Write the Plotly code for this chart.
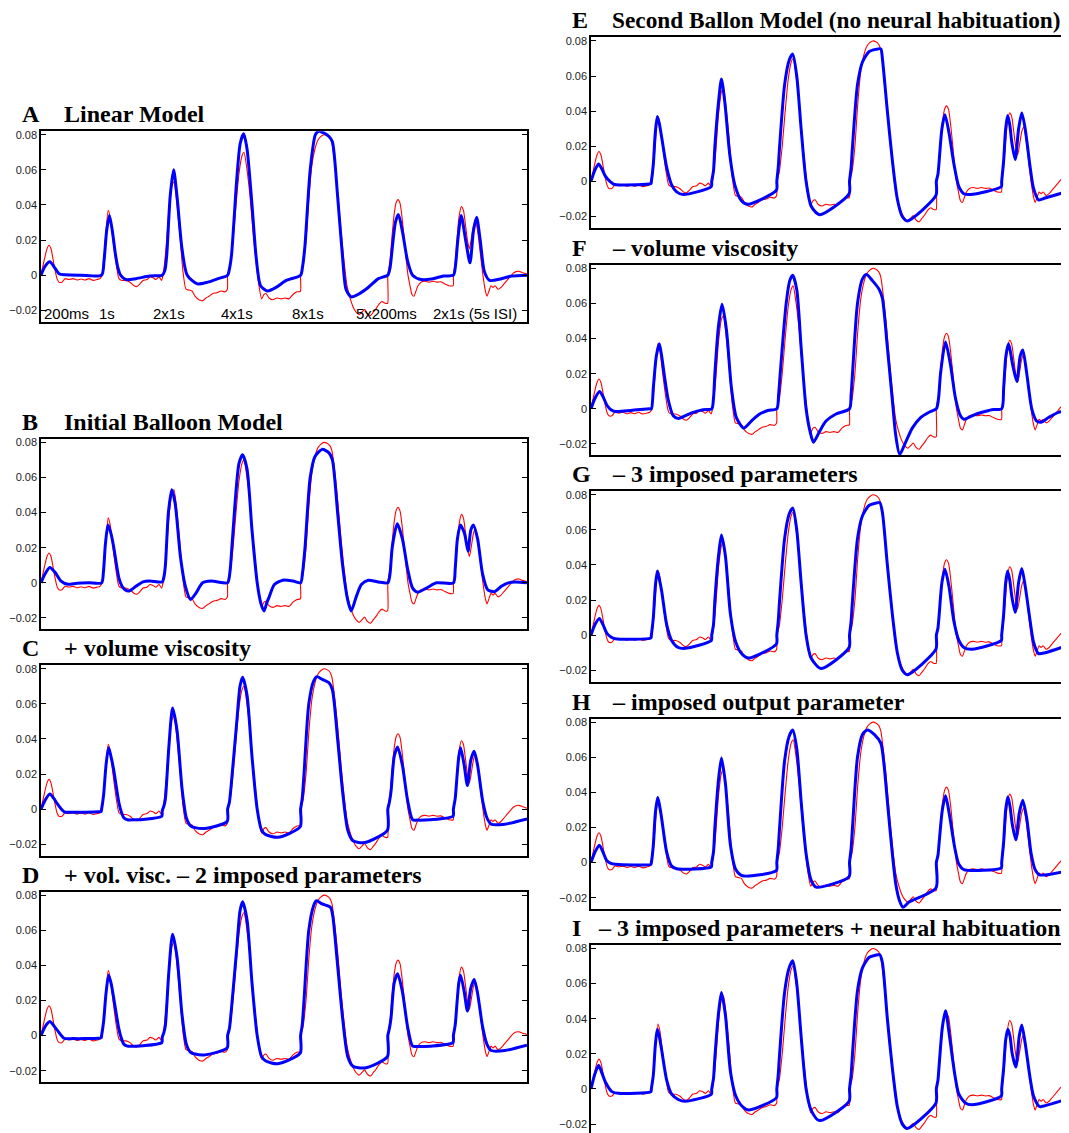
import plotly.graph_objects as go

W, H = 1069, 1133
OFF = 8  # page body margin in the browser
FW, FH = W - OFF, H - OFF

# ---------------- data ----------------
tick_vals = [-0.02, 0.0, 0.02, 0.04, 0.06, 0.08]
tick_text = ["\u22120.02", "0", "0.02", "0.04", "0.06", "0.08"]

event_labels = ["200ms", "1s", "2x1s", "4x1s", "8x1s", "5x200ms", "2x1s (5s ISI)"]
event_label_t = [12.5, 32.8, 63.8, 98.0, 133.5, 172.8, 217.0]

# measured BOLD signal (red), (time s, value)
measured = [
    (0, 0), (1.5, 0.008), (3.0, 0.015), (4.0, 0.017), (5.0, 0.015), (6.5, 0.006), (8.0, -0.002),
    (9.0, -0.004), (10.5, -0.004), (12.0, -0.002), (14.0, -0.0025), (16.0, -0.002), (18.0, -0.0028),
    (20.0, -0.0022), (22.0, -0.0028), (24.0, -0.002), (26.0, -0.003), (28.0, -0.0025), (29.5, -0.002),
    (30.5, 0.0), (31.5, 0.01), (32.5, 0.025), (33.6, 0.037), (34.6, 0.033), (36.0, 0.02), (37.5, 0.007),
    (39.0, -0.002), (40.5, -0.003), (42.5, -0.003), (44.5, -0.004), (46.5, -0.006), (48.0, -0.0065),
    (49.5, -0.005), (51.0, -0.003), (53.0, -0.0025), (54.5, -0.001), (56.0, -0.0015), (57.5, -0.0025),
    (59.0, -0.001), (60.3, -0.003), (61.0, 0.0), (62.5, 0.015), (64.0, 0.038), (65.5, 0.051),
    (66.5, 0.053), (68.0, 0.04), (69.5, 0.022), (71.0, 0.002), (72.5, -0.008), (74.0, -0.0085),
    (75.5, -0.009), (77.0, -0.012), (79.0, -0.014), (81.0, -0.0145), (82.5, -0.013), (84.0, -0.012),
    (86.0, -0.0105), (88.0, -0.01), (90.0, -0.009), (92.0, -0.0095), (93.2, -0.008), (93.3, 0.0),
    (94.5, 0.005), (96.0, 0.02), (97.5, 0.04), (99.0, 0.058), (100.5, 0.068), (101.5, 0.07),
    (103.0, 0.06), (104.5, 0.045), (106.0, 0.025), (107.5, 0.008), (109.0, -0.006), (110.3, -0.0135),
    (111.5, -0.011), (112.5, -0.0105), (114.0, -0.013), (116.0, -0.014), (118.0, -0.013),
    (120.0, -0.0135), (122.0, -0.013), (124.0, -0.0135), (126.0, -0.011), (128.0, -0.0095),
    (129.7, -0.0092), (129.8, 0.0), (131.0, 0.005), (132.5, 0.02), (134.0, 0.045), (135.5, 0.063),
    (137.0, 0.072), (138.5, 0.077), (140.0, 0.079), (141.5, 0.08), (143.0, 0.0795), (144.5, 0.078),
    (145.5, 0.075), (147.0, 0.062), (148.5, 0.045), (150.0, 0.025), (151.5, 0.008), (153.0, -0.006),
    (154.5, -0.013), (156.0, -0.018), (157.5, -0.021), (159.0, -0.0225), (160.5, -0.021),
    (161.8, -0.0195), (163.2, -0.022), (164.8, -0.023), (166.2, -0.021), (167.6, -0.019),
    (169.0, -0.0165), (170.5, -0.015), (172.0, -0.016), (173.3, -0.016), (173.4, 0.0), (174.5, 0.008),
    (175.5, 0.022), (176.5, 0.034), (177.5, 0.041), (178.5, 0.043), (179.5, 0.041), (180.5, 0.033),
    (181.5, 0.022), (182.5, 0.01), (183.5, 0.0), (184.5, -0.006), (185.5, -0.011), (186.5, -0.012),
    (187.5, -0.009), (188.5, -0.006), (190.0, -0.004), (192.0, -0.0035), (194.0, -0.004),
    (196.0, -0.0035), (198.0, -0.004), (200.0, -0.0038), (202.0, -0.005), (204.0, -0.006),
    (206.1, -0.006), (206.2, 0.0), (207.0, 0.006), (208.0, 0.02), (209.0, 0.033), (210.2, 0.039),
    (211.2, 0.037), (212.2, 0.029), (213.2, 0.02), (214.2, 0.015), (215.2, 0.021), (216.2, 0.028),
    (217.2, 0.031), (218.2, 0.026), (219.2, 0.017), (220.2, 0.007), (221.2, -0.002), (222.2, -0.009),
    (223.0, -0.012), (224.0, -0.009), (225.0, -0.006), (226.0, -0.007), (227.0, -0.006),
    (228.5, -0.008), (230.0, -0.007), (231.5, -0.005), (233.0, -0.003), (234.5, -0.001),
    (236.0, 0.001), (237.5, 0.002), (239.0, 0.0022), (240.5, 0.0015), (242.0, 0.001), (243.0, 0.0005),
]

# model fits (blue), (time s, value)
model_A = [
    (0, 0), (2, 0.005), (4.4, 0.0076), (7, 0.004), (9, 0.0008), (12, 0.0002), (20, 0), (30.3, 0),
    (31.5, 0.008), (32.8, 0.025), (34.2, 0.034), (35.7, 0.025), (37.2, 0.012), (38.5, 0.004),
    (39.8, 0.0), (42.4, -0.0025), (47.5, -0.002), (54.3, -0.0005), (60.6, 0), (62.0, 0.003),
    (62.9, 0.012), (64.6, 0.045), (66.3, 0.060), (68.0, 0.045), (70.5, 0.015), (73.1, 0.0),
    (78.2, -0.005), (83.3, -0.004), (88.5, -0.002), (93.3, 0), (94.3, 0.004), (95.3, 0.012),
    (97.9, 0.055), (99.6, 0.075), (101.3, 0.0805), (103.0, 0.072), (105.5, 0.04), (107.6, 0.01),
    (109.8, -0.006), (113.2, -0.009), (117.5, -0.007), (122.6, -0.003), (129.8, 0), (130.8, 0.005),
    (132.0, 0.017), (134.6, 0.06), (137.2, 0.080), (138.9, 0.082), (141.4, 0.081), (144.0, 0.079),
    (145.7, 0.076), (148.3, 0.045), (150.8, 0.01), (152.5, -0.008), (155.1, -0.0124), (158.5, -0.011),
    (163.6, -0.007), (168.7, -0.002), (173.4, 0), (174.5, 0.004), (175.6, 0.015), (177.2, 0.03),
    (178.7, 0.0345), (180.7, 0.025), (183.3, 0.008), (185.8, 0.0), (190.0, -0.0025), (196.0, -0.002),
    (201.2, -0.0005), (206.2, 0), (207.3, 0.006), (208.4, 0.02), (210.1, 0.034), (212.3, 0.02),
    (214.5, 0.007), (216.2, 0.025), (217.8, 0.033), (219.6, 0.02), (221.7, 0.002), (224.3, -0.003),
    (230.2, -0.002), (235.4, -0.0005), (243, 0),
]
model_B = [
    (0, 0), (2, 0.005), (4.4, 0.0087), (7, 0.006), (10, 0.001), (13.3, -0.0008), (18, -0.0002),
    (24, 0.0), (30.3, 0.0), (31.2, 0.006), (32.2, 0.022), (33.5, 0.033), (35, 0.028), (36.4, 0.02),
    (38.9, 0.003), (40.5, -0.002), (42, -0.004), (44, -0.0047), (47.5, -0.002), (51, 0.0005),
    (54.3, 0.001), (60.6, 0.0005), (61.4, 0.003), (62.2, 0.01), (63.7, 0.04), (65.4, 0.053),
    (67.1, 0.045), (69.7, 0.015), (72.2, -0.002), (74.8, -0.0095), (77.4, -0.006), (80.8, 0.0),
    (85, 0.001), (93.3, 0.0), (94.1, 0.003), (94.8, 0.01), (97, 0.045), (99, 0.068), (100.8, 0.073),
    (103, 0.065), (105.5, 0.03), (108.1, 0.0), (110, -0.012), (111.5, -0.016), (113, -0.011),
    (114.1, -0.008), (116.7, -0.001), (120.9, 0.0015), (126, 0.001), (129.8, 0.0), (130.8, 0.006),
    (132, 0.02), (134.6, 0.06), (137, 0.072), (140.6, 0.076), (144, 0.074), (145.7, 0.07),
    (148.3, 0.04), (150.8, 0.01), (153.4, -0.01), (155.1, -0.016), (157.6, -0.008), (160.2, -0.001),
    (163.6, 0.0015), (168.7, 0.0005), (173.4, 0.0), (174.5, 0.005), (175.6, 0.02), (178.1, 0.0336),
    (180.7, 0.025), (183.3, 0.008), (185.8, -0.003), (188.4, -0.0053), (192.7, -0.003), (197.8, 0.0),
    (206.2, 0.0), (207.1, 0.008), (208.2, 0.025), (209.7, 0.033), (211.8, 0.028), (213.5, 0.018),
    (214.9, 0.03), (216.2, 0.033), (218.3, 0.025), (220.8, 0.005), (223.4, -0.004), (226.8, -0.005),
    (230.2, -0.002), (233.7, 0.0), (237.1, 0.0005), (243, 0.0),
]
model_C = [
    (0, 0), (2, 0.005), (4.4, 0.0087), (6.5, 0.006), (8.2, 0.003), (11.6, -0.0015), (16, -0.0017),
    (22, -0.0017), (28.7, -0.0015), (30.1, -0.0012), (30.3, 0.0), (31.3, 0.008), (32.5, 0.025),
    (33.8, 0.035), (35, 0.03), (36.4, 0.022), (38.9, 0.004), (40.3, -0.002), (41.5, -0.005),
    (43.2, -0.006), (47, -0.006), (51, -0.0058), (60.4, -0.004), (60.6, -0.001), (61.5, 0.002),
    (62.2, 0.006), (63.9, 0.035), (65.8, 0.0576), (68, 0.045), (70.5, 0.012), (72.7, -0.005),
    (74.8, -0.0095), (77, -0.0105), (81.6, -0.011), (93.1, -0.007), (93.3, 0.0), (94.2, 0.004),
    (95.2, 0.015), (97.9, 0.05), (99.5, 0.07), (100.8, 0.0751), (103, 0.065), (105.5, 0.03),
    (108.1, 0.0), (110.3, -0.012), (112.4, -0.0145), (118.4, -0.016), (129.6, -0.010), (129.8, 0.0),
    (130.6, 0.006), (131.5, 0.02), (133.9, 0.06), (136.3, 0.073), (138, 0.0755), (140.6, 0.074),
    (144, 0.072), (145.7, 0.068), (148.3, 0.04), (150.8, 0.01), (153.4, -0.012), (156, -0.018),
    (161.9, -0.019), (173.2, -0.012), (173.4, 0.0), (174.2, 0.004), (175, 0.01), (176.6, 0.03),
    (178.3, 0.0355), (180.7, 0.025), (183.3, 0.005), (185.8, -0.006), (188, -0.0062), (194.4, -0.006),
    (206.0, -0.004), (206.2, 0.0), (207.1, 0.006), (208.1, 0.02), (208.9, 0.03), (209.8, 0.035),
    (211.6, 0.025), (213.2, 0.0135), (214.9, 0.028), (216.6, 0.033), (218.3, 0.025), (220.8, 0.005),
    (223, -0.005), (225.1, -0.0085), (231.9, -0.0085), (243, -0.0055),
]
model_D = [
    (0, 0), (2, 0.005), (4.4, 0.008), (6.5, 0.0055), (8.2, 0.003), (11.6, -0.0015), (16, -0.0017),
    (22, -0.0017), (28.7, -0.0015), (30.1, -0.0012), (30.3, 0.0), (31.3, 0.008), (32.5, 0.024),
    (33.8, 0.0344), (35, 0.03), (36.4, 0.021), (38.9, 0.004), (40.3, -0.002), (41.5, -0.005),
    (43.2, -0.006), (47, -0.006), (51, -0.0058), (60.4, -0.004), (60.6, -0.001), (61.5, 0.002),
    (62.2, 0.006), (63.9, 0.036), (65.8, 0.0578), (68, 0.045), (70.5, 0.012), (72.7, -0.005),
    (74.8, -0.0095), (77, -0.0105), (81.6, -0.011), (93.1, -0.007), (93.3, 0.0), (94.2, 0.004),
    (95.2, 0.015), (97.9, 0.05), (99.5, 0.071), (100.8, 0.0762), (103, 0.066), (105.5, 0.03),
    (108.1, 0.0), (110.3, -0.012), (112.4, -0.0145), (118.4, -0.016), (129.6, -0.010), (129.8, 0.0),
    (130.6, 0.006), (131.5, 0.02), (133.9, 0.06), (136.3, 0.074), (137.7, 0.0768), (140.6, 0.075),
    (144.8, 0.073), (145.9, 0.068), (148.3, 0.04), (150.8, 0.01), (153.4, -0.012), (156, -0.0175),
    (161.9, -0.0184), (173.2, -0.012), (173.4, 0.0), (174.2, 0.004), (175, 0.01), (176.6, 0.03),
    (178.3, 0.0353), (180.7, 0.025), (183.3, 0.005), (185.8, -0.006), (188, -0.0062), (194.4, -0.006),
    (206.0, -0.004), (206.2, 0.0), (207.1, 0.006), (208.1, 0.02), (208.9, 0.03), (209.8, 0.0344),
    (211.6, 0.025), (213.2, 0.014), (214.9, 0.027), (216.6, 0.032), (218.3, 0.024), (220.8, 0.005),
    (223, -0.005), (225.1, -0.0085), (231.9, -0.0085), (243, -0.0055),
]
model_E = [
    (0, 0), (1.8, 0.006), (3.8, 0.0099), (5.5, 0.007), (7.2, 0.003), (9.5, 0.0), (11.3, -0.0015),
    (14.7, -0.002), (30.1, -0.0012), (30.3, 0.0), (31.3, 0.01), (32.3, 0.028), (33.3, 0.037),
    (34.3, 0.033), (35.5, 0.025), (38, 0.008), (40.5, -0.002), (43, -0.006), (46.3, -0.0075),
    (60.4, -0.003), (60.6, 0.0), (61.5, 0.006), (62.2, 0.02), (64, 0.045), (65.5, 0.0583),
    (67.2, 0.045), (69.7, 0.015), (72.2, -0.002), (75.5, -0.011), (78.8, -0.013), (93.1, -0.005),
    (93.3, 0.0), (94, 0.008), (94.7, 0.02), (97.2, 0.055), (99.5, 0.069), (101.3, 0.0725),
    (103.3, 0.06), (105.5, 0.03), (108, 0.0), (110.5, -0.014), (114.7, -0.019), (129.6, -0.007),
    (129.8, 0.0), (130.6, 0.008), (131.3, 0.02), (133.8, 0.055), (136.3, 0.068), (139.7, 0.074),
    (143, 0.0752), (145.5, 0.0755), (146.3, 0.07), (148.8, 0.04), (151.3, 0.012), (153.8, -0.01),
    (156.3, -0.02), (158.8, -0.0225), (173.2, -0.008), (173.4, 0.0), (174.2, 0.004), (174.7, 0.01),
    (176.2, 0.03), (177.7, 0.038), (179.7, 0.028), (182.2, 0.01), (184.7, -0.003), (187.2, -0.007),
    (190.5, -0.0075), (206.0, -0.003), (206.2, 0.0), (207.2, 0.012), (208.2, 0.03), (209.2, 0.0375),
    (210.3, 0.032), (211.3, 0.022), (213, 0.0125), (214.7, 0.03), (216.3, 0.039), (218, 0.03),
    (220.5, 0.008), (222.2, -0.004), (224.7, -0.0105), (228, -0.0095), (240, -0.0055),
]
model_F = [
    (0, 0), (2, 0.006), (4.3, 0.0099), (6, 0.007), (8, 0.002), (10, -0.0005), (12.2, -0.0015),
    (20, -0.001), (29.3, 0.0), (30.3, 0.0), (31.3, 0.012), (32.8, 0.03), (34.3, 0.037), (35.5, 0.03),
    (36.7, 0.02), (38.8, 0.005), (41.3, -0.004), (43.8, -0.0055), (47.2, -0.004), (51.3, -0.002),
    (56.3, -0.0005), (60.6, 0.0), (61.5, 0.006), (62.2, 0.02), (64, 0.047), (65.8, 0.0595),
    (68, 0.045), (70.5, 0.012), (73, -0.005), (76.7, -0.011), (80.5, -0.007), (84.7, -0.003),
    (88.8, -0.001), (93.3, 0.0), (94.2, 0.008), (95, 0.02), (98, 0.06), (99.8, 0.073), (101.3, 0.076),
    (103.3, 0.068), (105.5, 0.035), (108, 0.0), (110, -0.013), (111.7, -0.019), (114.7, -0.013),
    (118, -0.007), (123, -0.003), (129.8, 0.0), (130.6, 0.008), (131.3, 0.02), (133.8, 0.06),
    (136.3, 0.074), (138.3, 0.0765), (141.3, 0.073), (144.7, 0.068), (146.3, 0.063), (148.8, 0.035),
    (151.3, 0.005), (153, -0.015), (155, -0.026), (158, -0.019), (161.3, -0.011), (165.5, -0.005),
    (169.7, -0.002), (173.4, 0.0), (174.5, 0.006), (175.5, 0.02), (178, 0.038), (180.5, 0.025),
    (183, 0.006), (185.5, -0.004), (187.2, -0.006), (191.3, -0.004), (196.3, -0.002),
    (201.3, -0.0005), (206.2, 0.0), (207.2, 0.012), (208.3, 0.03), (209.7, 0.037), (211.7, 0.025),
    (213.8, 0.0155), (215.5, 0.03), (216.8, 0.0335), (218.8, 0.02), (221.3, 0.0), (223.8, -0.007),
    (226.3, -0.0075), (229.7, -0.005), (234.7, -0.002), (240, -0.001),
]
model_G = [
    (0, 0), (2, 0.006), (4.2, 0.0095), (6, 0.006), (8, 0.001), (10, -0.001), (12.2, -0.002),
    (30.1, -0.0015), (30.3, 0.0), (31.3, 0.01), (32.3, 0.028), (33.3, 0.0365), (34.3, 0.032),
    (35.5, 0.025), (38, 0.006), (40.5, -0.003), (43.8, -0.007), (47.2, -0.0075), (60.4, -0.003),
    (60.6, 0.0), (61.5, 0.006), (62.2, 0.02), (64, 0.045), (65.5, 0.057), (67.5, 0.045), (70, 0.012),
    (72.7, -0.004), (76, -0.011), (79.3, -0.013), (93.1, -0.005), (93.3, 0.0), (94, 0.008),
    (94.7, 0.02), (97.2, 0.055), (99.5, 0.069), (101.3, 0.0725), (103.3, 0.06), (105.5, 0.03),
    (108, 0.0), (110.5, -0.013), (115.5, -0.019), (129.6, -0.007), (129.8, 0.0), (130.6, 0.008),
    (131.3, 0.02), (133.8, 0.055), (136.3, 0.068), (139.7, 0.074), (143, 0.0752), (145, 0.0755),
    (146.3, 0.07), (148.8, 0.04), (151.3, 0.012), (153.8, -0.01), (156.3, -0.02), (158.8, -0.0225),
    (173.2, -0.008), (173.4, 0.0), (174.2, 0.004), (174.7, 0.01), (176.2, 0.03), (177.7, 0.0375),
    (179.7, 0.028), (182.2, 0.008), (184.7, -0.003), (187.2, -0.007), (191.3, -0.008),
    (206.0, -0.003), (206.2, 0.0), (207.2, 0.012), (208.2, 0.03), (209.2, 0.0365), (210.3, 0.031),
    (211.3, 0.022), (213, 0.013), (214.7, 0.03), (216.3, 0.038), (218, 0.028), (220.5, 0.008),
    (222.2, -0.004), (224.7, -0.0105), (228, -0.01), (240, -0.0055),
]
model_H = [
    (0, 0), (2, 0.006), (4.2, 0.0099), (6, 0.006), (8, 0.001), (10, -0.0005), (12.2, -0.001),
    (30.1, -0.001), (30.3, 0.0), (31.3, 0.01), (32.3, 0.028), (33.5, 0.037), (34.5, 0.032),
    (35.5, 0.025), (38, 0.006), (40.5, -0.002), (43, -0.0035), (60.4, -0.0025), (60.6, 0.0),
    (61.5, 0.006), (62.2, 0.02), (64, 0.047), (65.5, 0.0595), (67.5, 0.045), (70, 0.01),
    (72.7, -0.004), (76, -0.0075), (93.1, -0.0045), (93.3, 0.0), (94, 0.008), (94.7, 0.02),
    (97.2, 0.058), (99.5, 0.072), (101.3, 0.0755), (103.3, 0.065), (105.5, 0.035), (108, 0.005),
    (110.5, -0.01), (113, -0.014), (129.6, -0.008), (129.8, 0.0), (130.6, 0.008), (131.3, 0.02),
    (133.8, 0.06), (136.3, 0.073), (138.8, 0.0755), (142.2, 0.073), (145.5, 0.068), (147.2, 0.055),
    (148.8, 0.035), (151.3, 0.005), (153, -0.012), (155, -0.022), (156.7, -0.0255), (159.7, -0.0225),
    (173.2, -0.0145), (173.4, 0.0), (174.2, 0.004), (174.7, 0.01), (176.4, 0.03), (178, 0.038),
    (180, 0.027), (182.7, 0.008), (184.7, -0.001), (187.2, -0.004), (206.0, -0.003), (206.2, 0.0),
    (207.2, 0.012), (208.2, 0.03), (209.3, 0.0375), (210.4, 0.032), (211.5, 0.022), (213.3, 0.013),
    (215, 0.028), (216.8, 0.0355), (218.8, 0.025), (221, 0.005), (223, -0.004), (225.2, -0.007),
    (240, -0.0045),
]
model_I = [
    (0, 0), (1.8, 0.008), (3.8, 0.0135), (5.5, 0.009), (7.2, 0.004), (10.5, -0.0015),
    (13.8, -0.0025), (30.1, -0.0015), (30.3, 0.0), (31.3, 0.008), (32.3, 0.025), (33.3, 0.034),
    (34.3, 0.03), (35.5, 0.022), (38, 0.005), (40.5, -0.003), (43.8, -0.006), (47.2, -0.007),
    (60.4, -0.003), (60.6, 0.0), (61.5, 0.006), (62.2, 0.018), (64, 0.043), (65.5, 0.055),
    (67.5, 0.042), (70, 0.01), (72.7, -0.004), (76, -0.01), (79.3, -0.012), (93.1, -0.005),
    (93.3, 0.0), (94, 0.008), (94.7, 0.02), (97.2, 0.055), (99.5, 0.069), (101.3, 0.073),
    (103.3, 0.06), (105.5, 0.03), (108, 0.0), (110.5, -0.012), (114.7, -0.018), (129.6, -0.007),
    (129.8, 0.0), (130.6, 0.008), (131.3, 0.02), (133.8, 0.056), (136.3, 0.069), (139.7, 0.075),
    (143, 0.0762), (145, 0.0765), (146.3, 0.072), (148.8, 0.04), (151.3, 0.012), (153.8, -0.01),
    (156.3, -0.02), (158.8, -0.0225), (173.2, -0.008), (173.4, 0.0), (174.2, 0.005), (174.7, 0.012),
    (176.4, 0.035), (178, 0.0446), (180, 0.03), (182.7, 0.008), (184.7, -0.003), (188, -0.008),
    (191.3, -0.009), (206.0, -0.004), (206.2, 0.0), (207.2, 0.012), (208.2, 0.028), (209.3, 0.034),
    (210.4, 0.03), (211.5, 0.02), (213.3, 0.0125), (215, 0.03), (216.3, 0.0365), (218, 0.026),
    (220.5, 0.006), (222.2, -0.004), (225.2, -0.01), (228, -0.0095), (240, -0.0055),
]

# ---------------- layout ----------------
panels = [
    dict(letter="A", title="Linear Model", model=model_A, col=0, top=128.5),
    dict(letter="B", title="Initial Balloon Model", model=model_B, col=0, top=437),
    dict(letter="C", title="+ volume viscosity", model=model_C, col=0, top=664),
    dict(letter="D", title="+ vol. visc. \u2013 2 imposed parameters", model=model_D, col=0, top=891),
    dict(letter="E", title="Second Ballon Model (no neural habituation)", model=model_E, col=1, top=34.5),
    dict(letter="F", title="\u2013 volume viscosity", model=model_F, col=1, top=262.5),
    dict(letter="G", title="\u2013 3 imposed parameters", model=model_G, col=1, top=489.5),
    dict(letter="H", title="\u2013 imposed output parameter", model=model_H, col=1, top=717.5),
    dict(letter="I", title="\u2013 3 imposed parameters + neural habituation", model=model_I, col=1, top=944.5),
]

BOX_H = 191.0
Y_TOP = 0.082
Y_SPAN = 0.1085
col_x = [(41, 527), (591, W)]
col_range = [243.0, 240.0]
letter_x = [19.5, 569.5]
title_x = [61.5, 609.5]


def px(xp):
    return (xp - OFF) / FW


def py(yp):
    return 1 - (yp - OFF) / FH


fig = go.Figure()
annotations = []
mt = [a for a, b in measured]
mv = [b for a, b in measured]
for i, p in enumerate(panels):
    n = i + 1
    xa = "xaxis" if n == 1 else f"xaxis{n}"
    ya = "yaxis" if n == 1 else f"yaxis{n}"
    xr = "x" if n == 1 else f"x{n}"
    yr = "y" if n == 1 else f"y{n}"
    c = p["col"]
    top = p["top"]
    bottom = top + BOX_H
    y_lo = Y_TOP - Y_SPAN
    if bottom > H:
        y_lo = Y_TOP - Y_SPAN * (H - top) / BOX_H
        bottom = H
    x0, x1 = col_x[c]

    fig.add_trace(go.Scatter(x=mt, y=mv, mode="lines", xaxis=xr, yaxis=yr,
                             line=dict(color="#ff0000", width=1.1, shape="spline", smoothing=0.6),
                             showlegend=False, hoverinfo="skip"))
    bt = [a for a, b in p["model"]]
    bv = [b for a, b in p["model"]]
    fig.add_trace(go.Scatter(x=bt, y=bv, mode="lines", xaxis=xr, yaxis=yr,
                             line=dict(color="#0000ff", width=3, shape="spline", smoothing=0.7),
                             showlegend=False, hoverinfo="skip"))

    last_right = (c == 1 and bottom >= H)
    fig.layout[xa] = dict(domain=[max(0, px(x0)), min(1, px(x1))], range=[0, col_range[c]], anchor=yr,
                          showgrid=False, zeroline=False, showticklabels=False, ticks="",
                          showline=True, linecolor="black", linewidth=1.5,
                          mirror=(not last_right), side=("top" if last_right else "bottom"))
    fig.layout[ya] = dict(domain=[max(0, py(bottom)), min(1, py(top))], range=[y_lo, Y_TOP], anchor=xr,
                          showgrid=False, zeroline=False, showline=True, linecolor="black",
                          linewidth=1.5, mirror=("ticks" if c == 0 else False),
                          ticks="inside", ticklen=5, tickwidth=1, tickcolor="black",
                          tickvals=tick_vals, ticktext=tick_text,
                          tickfont=dict(family="Liberation Sans, Arial", size=11, color="#222222"))

    ty = py(top - 17)
    annotations.append(dict(xref="paper", yref="paper", x=px(letter_x[c]), y=ty,
                            xanchor="left", yanchor="middle", showarrow=False,
                            text=f"<b>{p['letter']}</b>",
                            font=dict(family="Liberation Serif, Times New Roman", size=24, color="black")))
    tx = title_x[c] if p["letter"] != "I" else 595.5
    tsize = 23.3 if p["letter"] == "E" else 24
    annotations.append(dict(xref="paper", yref="paper", x=px(tx), y=ty,
                            xanchor="left", yanchor="middle", showarrow=False,
                            text=f"<b>{p['title']}</b>",
                            font=dict(family="Liberation Serif, Times New Roman", size=tsize, color="black")))

for lab, t in zip(event_labels, event_label_t):
    annotations.append(dict(xref="x", yref="y", x=t, y=-0.0217, xanchor="center", yanchor="middle",
                            showarrow=False, text=lab,
                            font=dict(family="Liberation Sans, Arial", size=15, color="black")))

fig.update_layout(width=FW, height=FH, margin=dict(l=0, r=0, t=0, b=0),
                  paper_bgcolor="white", plot_bgcolor="white", annotations=annotations,
                  showlegend=False)

fig.write_html("out.html")
